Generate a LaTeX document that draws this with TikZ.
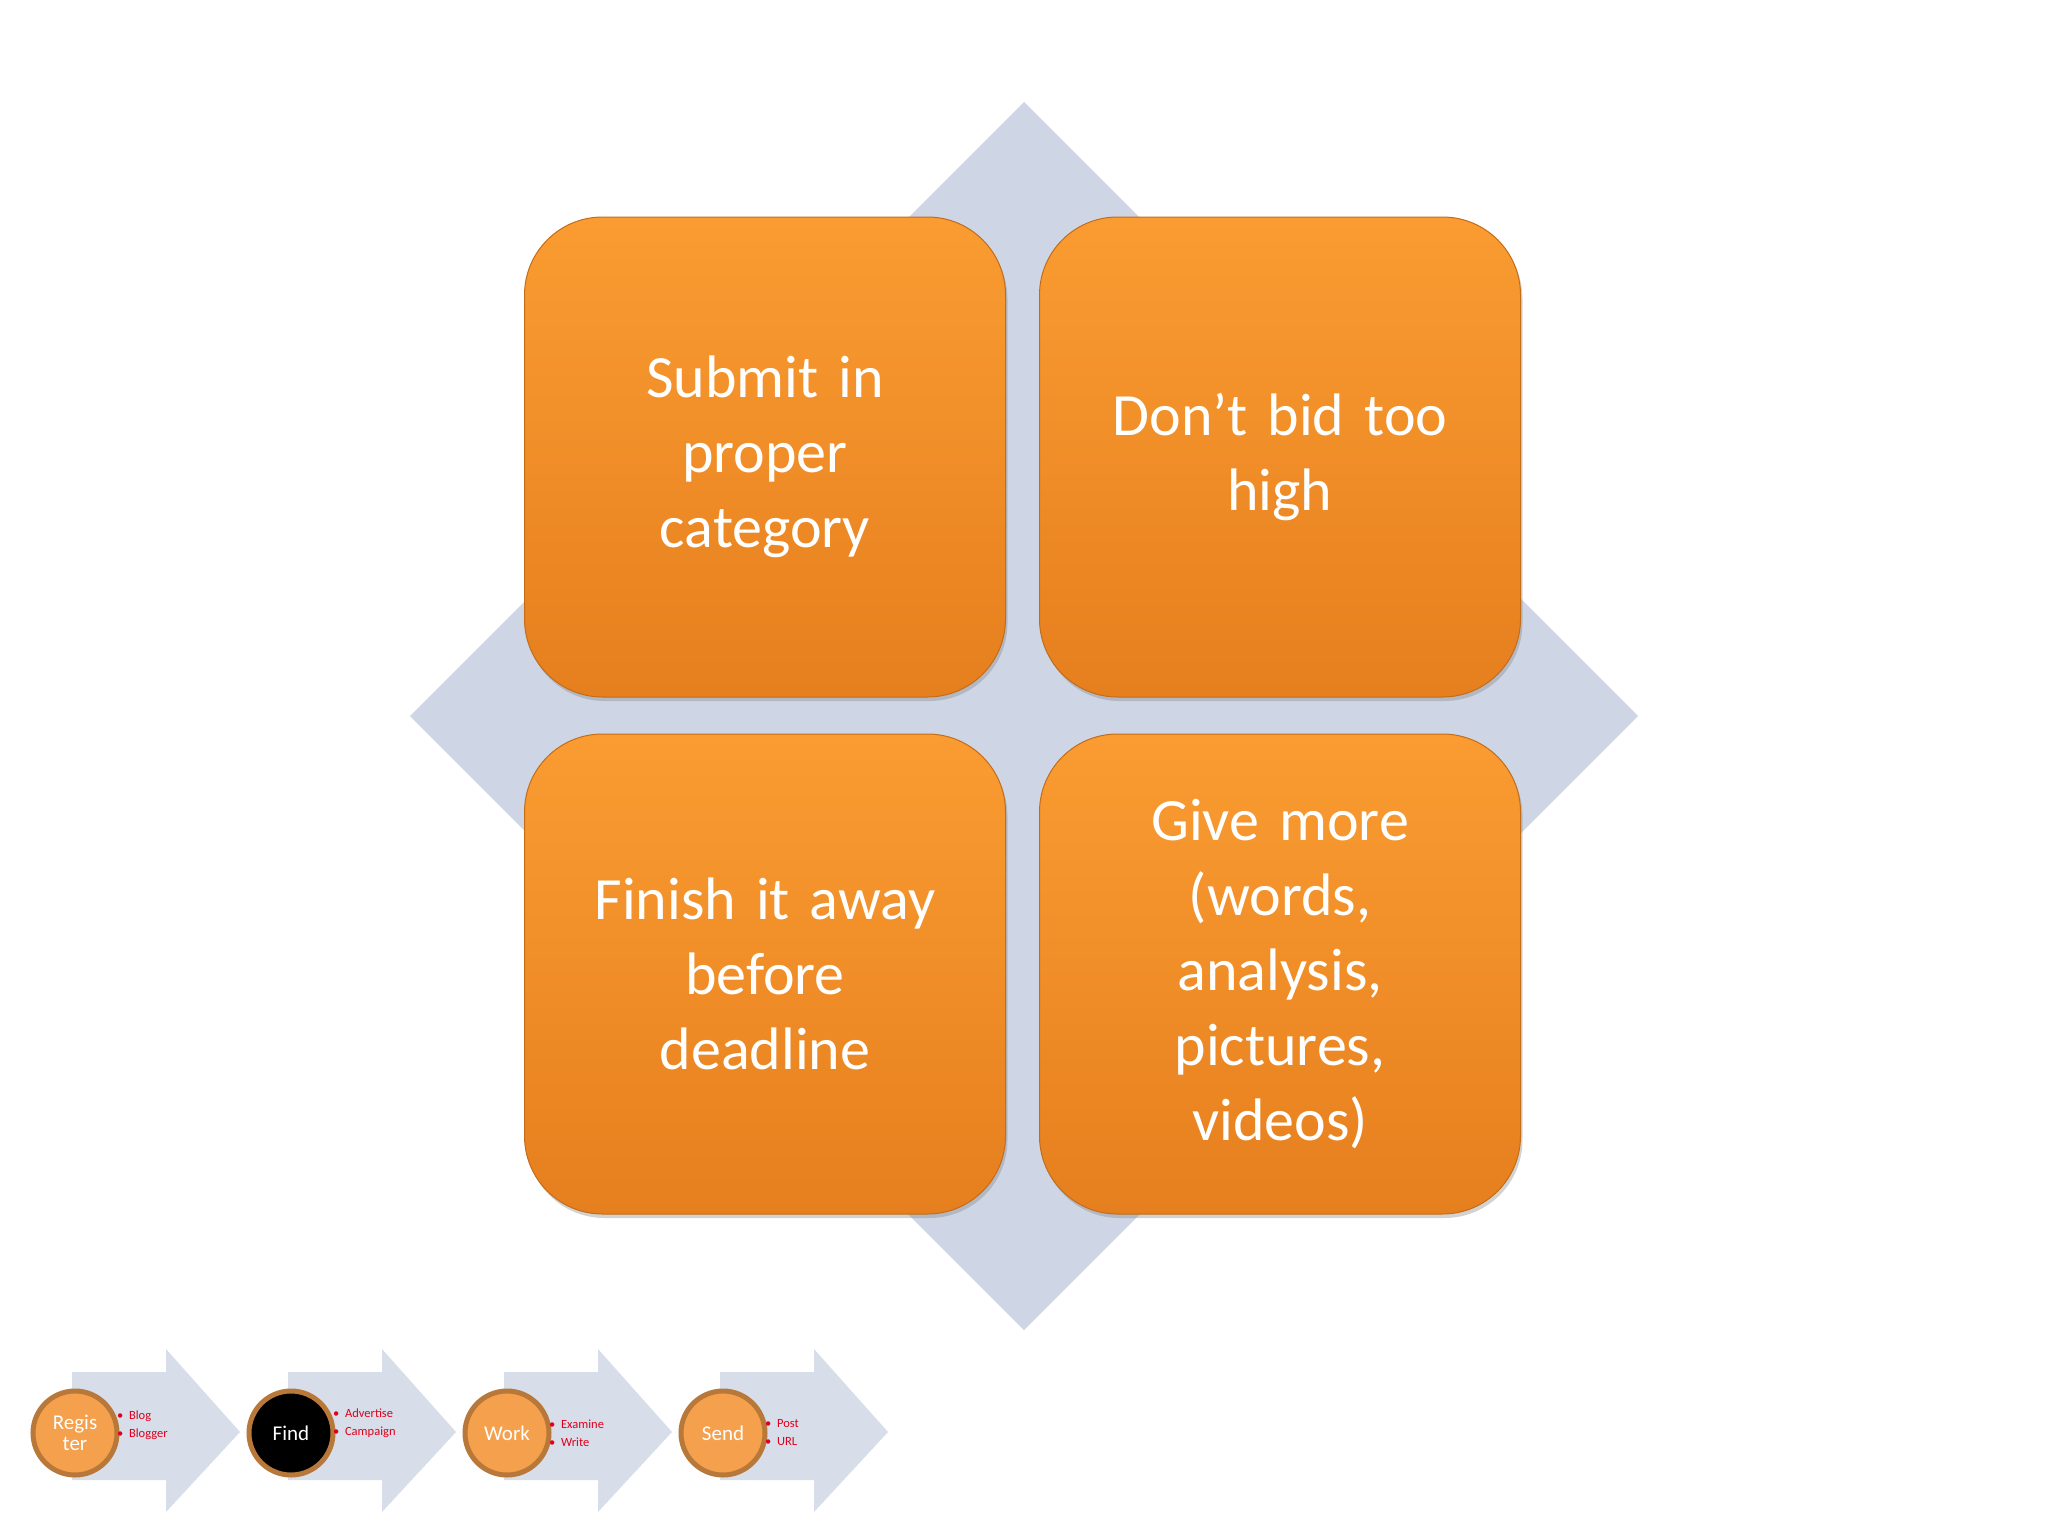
\documentclass[tikz,border=0pt]{standalone}
\usepackage{fontspec}
\setmainfont{Carlito}
\usetikzlibrary{shadows}
\definecolor{dia}{HTML}{CED6E6}
\definecolor{arr}{HTML}{D8DDEA}
\definecolor{otop}{HTML}{FA9C32}
\definecolor{obot}{HTML}{E67F1E}
\definecolor{ring}{HTML}{B8783A}
\definecolor{corange}{HTML}{F5A04D}
\definecolor{bred}{HTML}{E0001B}
\tikzset{
 box/.style={rounded corners=78pt, minimum width=481pt, minimum height=480pt, top color=otop, bottom color=obot, draw=obot!85!black, line width=1pt, drop shadow={shadow xshift=2pt,shadow yshift=-4pt,opacity=0.35}, text width=420pt, align=center, font=\fontsize{60}{75}\selectfont, text=white},
 circ/.style={circle, minimum size=84pt, draw=ring, line width=5pt, fill=corange, text=white, font=\fontsize{21}{24}\selectfont, align=center, inner sep=0pt},
 bl/.style={anchor=west, text=bred, font=\fontsize{12.5}{18}\selectfont, align=left, inner sep=0pt}
}
\begin{document}
\begin{tikzpicture}[x=1pt,y=-1pt]
\useasboundingbox (0,0) rectangle (2048,1536);
\fill[white] (0,0) rectangle (2048,1536);
\fill[dia] (1024,102) -- (1638,716) -- (1024,1330) -- (410,716) -- cycle;
\node[box] (b1) at (765,457) {Submit in\\proper\\category};
\node[box] (b2) at (1280,457) {Don’t bid too\\high};
\node[box] (b3) at (765,974) {Finish it away\\before\\deadline};
\node[box] (b4) at (1280,974) {Give more\\(words,\\analysis,\\pictures,\\videos)};
\foreach \i/\x in {1/0,2/216,3/432,4/648}{
  \fill[arr] (72+\x,1372) -- (166+\x,1372) -- (166+\x,1349) -- (240+\x,1432) -- (166+\x,1512) -- (166+\x,1480) -- (72+\x,1480) -- cycle;
}
\node[circ] (c1) at (75,1433) {Regis\\[-3pt]ter};
\node[circ, fill=black] (c2) at (291,1433) {Find};
\node[circ] (c3) at (507,1433) {Work};
\node[circ] (c4) at (723,1433) {Send};
\node[bl] (t1) at (117,1425) {•~~Blog\\•~~Blogger};
\node[bl] (t2) at (333,1423) {•~~Advertise\\•~~Campaign};
\node[bl] (t3) at (549,1433) {•~~Examine\\•~~Write};
\node[bl] (t4) at (765,1433) {•~~Post\\•~~URL};
\end{tikzpicture}
\end{document}
